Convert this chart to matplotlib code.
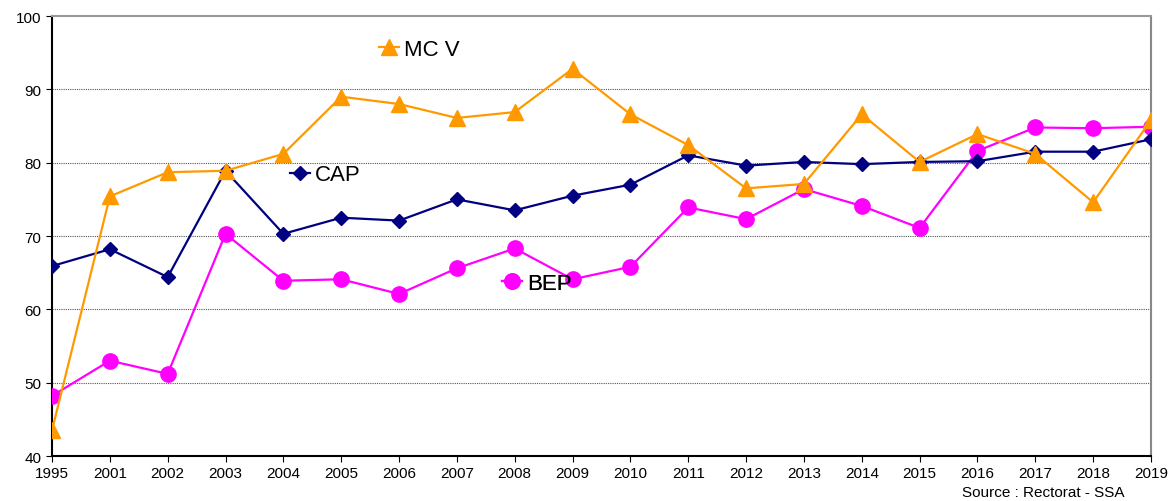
import numpy as np
import matplotlib
matplotlib.use("Agg")
import matplotlib.pyplot as plt

plt.rcParams['font.family'] = ['Liberation Sans', 'DejaVu Sans']

# data
years = ["1995", "2001", "2002", "2003", "2004", "2005", "2006", "2007", "2008", "2009",
         "2010", "2011", "2012", "2013", "2014", "2015", "2016", "2017", "2018", "2019"]
cap = [65.9, 68.2, 64.4, 78.9, 70.3, 72.5, 72.1, 75.0, 73.5, 75.5,
       77.0, 81.0, 79.6, 80.1, 79.8, 80.1, 80.2, 81.5, 81.5, 83.2]
mcv = [43.5, 75.4, 78.7, 78.9, 81.2, 89.0, 88.0, 86.1, 86.9, 92.8,
       86.6, 82.4, 76.5, 77.1, 86.6, 80.1, 83.9, 81.2, 74.6, 85.8]
bep = [48.2, 53.0, 51.2, 70.3, 63.9, 64.1, 62.1, 65.6, 68.3, 64.1,
       65.8, 73.9, 72.3, 76.4, 74.1, 71.1, 81.6, 84.8, 84.7, 84.9]

navy = "#000080"
orange = "#ff9900"
magenta = "#ff00ff"

fig = plt.figure(figsize=(11.71, 5.02), dpi=100)
ax = fig.add_axes([0.0444, 0.0896, 0.9385, 0.8765])  # [left, bottom, width, height]

x = np.arange(len(years))
l_bep, = ax.plot(x, bep, color=magenta, lw=1.6, marker='o', ms=11, zorder=3)
l_cap, = ax.plot(x, cap, color=navy, lw=1.6, marker='D', ms=7.5, zorder=4)
l_mcv, = ax.plot(x, mcv, color=orange, lw=1.6, marker='^', ms=11, zorder=5)

ax.set_xlim(0, len(years) - 1)
ax.set_ylim(40, 100)
ax.set_xticks(x)
ax.set_xticklabels(years)
ax.set_yticks(np.arange(40, 101, 10))
ax.tick_params(labelsize=11, length=4, direction='out', colors='black')
ax.tick_params(axis='x', pad=3)

for v in range(50, 100, 10):
  ax.axhline(v, color='#555555', lw=0.8, ls=(0, (1, 1)), zorder=1)

ax.spines['top'].set_color('#999999')
ax.spines['right'].set_color('#888888')
for s in ['top', 'right', 'left', 'bottom']:
  ax.spines[s].set_linewidth(1.5)

# inline legends
def put_legend(h, label, xy):
  lg = ax.legend([h], [label], loc='center left', bbox_to_anchor=xy, frameon=False,
                 fontsize=16, handlelength=0.9, handletextpad=0.22, borderpad=0, borderaxespad=0)
  ax.add_artist(lg)

put_legend(l_mcv, "MC V", (0.298, 0.925))
put_legend(l_cap, "CAP", (0.2166, 0.639))
put_legend(l_bep, "BEP", (0.4095, 0.393))

fig.text(0.9605, 0.003, "Source : Rectorat - SSA", ha='right', va='bottom', fontsize=11)

plt.savefig("out.png", dpi=100)
